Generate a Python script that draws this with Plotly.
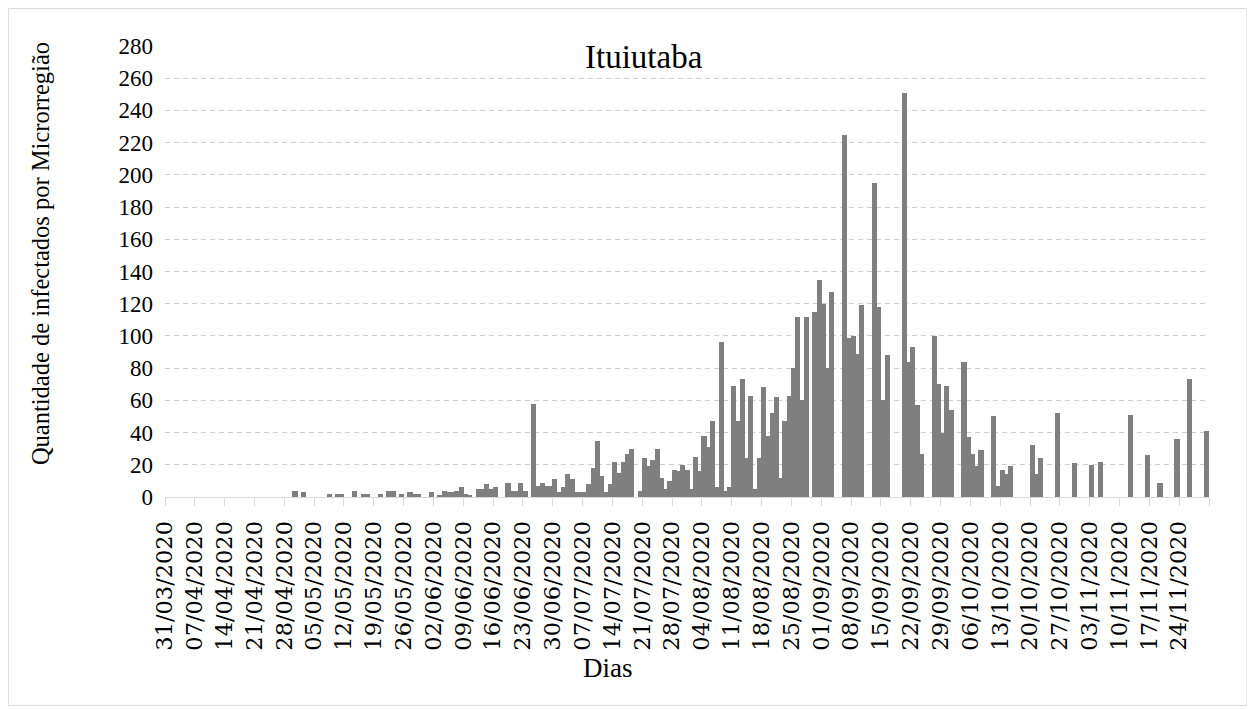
import plotly.graph_objects as go
import pandas as pd

# ---- data ----
start_date = "2020-03-31"
n_days = 245
# daily values (index = days since 31/03/2020); zero days omitted
day_index = [30, 32, 38, 40, 41, 44, 46, 47, 50, 52, 53, 55, 57, 58, 59, 62,
             64, 65, 66, 67, 68, 69, 70, 71, 73, 74, 75, 76, 77, 80, 81, 82, 83, 84,
             86, 87, 88, 89, 90, 91, 92, 93, 94, 95, 96, 97, 98, 99, 100, 101, 102, 103,
             104, 105, 106, 107, 108, 109, 111, 112, 113, 114, 115, 116, 117, 118, 119,
             120, 121, 122, 123, 124, 125, 126, 127, 128, 129, 130, 131, 132, 133, 134,
             135, 136, 137, 138, 139, 140, 141, 142, 143, 144, 145, 146, 147, 148, 149,
             150, 152, 153, 154, 155, 156, 159, 160, 161, 162, 163, 166, 167, 168, 169,
             173, 174, 175, 176, 177, 180, 181, 182, 183, 184, 187, 188, 189, 190, 191,
             194, 195, 196, 197, 198, 203, 204, 205, 209, 213, 217, 219, 226, 230, 233,
             237, 240, 244]
values = [4, 3, 2, 2, 2, 4, 2, 2, 2, 4, 4, 2, 3, 2, 2, 3,
          1, 4, 3, 3, 4, 6, 2, 1, 5, 5, 8, 5, 6, 9, 4, 4, 9, 4,
          58, 7, 9, 7, 7, 11, 3, 6, 14, 11, 3, 3, 3, 8, 18, 35, 13, 3,
          8, 22, 15, 22, 27, 30, 4, 24, 19, 23, 30, 12, 5, 10, 17,
          16, 20, 17, 5, 25, 16, 38, 31, 47, 6, 96, 4, 6, 69, 47,
          73, 24, 63, 5, 24, 68, 38, 52, 62, 12, 47, 63, 80, 112, 60,
          112, 115, 135, 120, 80, 127, 225, 99, 100, 89, 119, 195, 118, 60, 88,
          251, 84, 93, 57, 27, 100, 70, 40, 69, 54, 84, 37, 27, 19, 29,
          50, 7, 17, 14, 19, 32, 14, 24, 52, 21, 20, 22, 51, 26, 9,
          36, 73, 41]
y_ticks = list(range(0, 281, 20))
title_text = "Ituiutaba"
y_title = "Quantidade de infectados por Microrregião"
x_title = "Dias"

# ---- build ----
OFF = 8  # page body margin
W, H = 1247, 701
L, T = 165 - OFF, 46 - OFF
pw, ph = 1043.6, 450.7
R = W - L - pw
B = H - T - ph

def px_x(px):  # page pixel -> paper
    return (px - OFF - L) / pw

def px_y(py):
    return (T + ph - (py - OFF)) / ph

start = pd.Timestamp(start_date)
dates = [start + pd.Timedelta(days=d) + pd.Timedelta(hours=12) for d in day_index]
tick_dates = [start + pd.Timedelta(days=7 * k) for k in range(0, 35)]
tick_text = [d.strftime("%d/%m/%Y") for d in tick_dates]
end_date = start + pd.Timedelta(days=n_days)
tick_dates.append(end_date)
tick_text.append("")
day_ms = 86400000

FONT = "Liberation Serif"
XFONT = "DejaVu Serif"

fig = go.Figure()
fig.add_trace(go.Bar(
    x=dates, y=values, width=[1.2 * day_ms] * len(values),
    marker=dict(color="#7f7f7f", line=dict(width=0)),
    hoverinfo="x+y",
))

fig.update_layout(
    width=W, height=H,
    margin=dict(l=L, r=R, t=T, b=B, autoexpand=False),
    paper_bgcolor="white", plot_bgcolor="white",
    showlegend=False,
    bargap=0,
    font=dict(family=FONT, color="#000000"),
    xaxis=dict(
        type="date",
        range=[start, end_date],
        tickmode="array", tickvals=tick_dates, ticktext=tick_text,
        tickangle=-90, tickfont=dict(size=22.5, family=XFONT),
        ticks="outside", ticklen=8, tickcolor="#d9d9d9", tickwidth=1,
        ticklabelstandoff=6,
        showline=True, linecolor="#d9d9d9", linewidth=1,
        showgrid=False, zeroline=False,
    ),
    yaxis=dict(
        range=[0, 280], tickmode="array", tickvals=y_ticks,
        tickfont=dict(size=23, family=FONT),
        showgrid=True, gridcolor="#d0d0d0", griddash="5px,4px", gridwidth=1,
        zeroline=False, showline=False, ticks="",
        ticklabelstandoff=11,
    ),
    shapes=[dict(type="rect", xref="paper", yref="paper",
                 x0=px_x(8.5), x1=px_x(1246.5), y0=px_y(705), y1=px_y(8.5),
                 line=dict(color="#d9d9d9", width=1), fillcolor="rgba(0,0,0,0)",
                 layer="below")],
    annotations=[
        dict(text=title_text, xref="paper", yref="paper", x=px_x(644), y=px_y(57),
             showarrow=False, font=dict(size=33, family=FONT), xanchor="center", yanchor="middle"),
        dict(text=y_title, xref="paper", yref="paper", x=px_x(40), y=px_y(253),
             showarrow=False, textangle=-90, font=dict(size=24.5, family=FONT),
             xanchor="center", yanchor="middle"),
        dict(text=x_title, xref="paper", yref="paper", x=px_x(608), y=px_y(668),
             showarrow=False, font=dict(size=27, family=FONT), xanchor="center", yanchor="middle"),
    ],
)

fig.write_html("out.html")
